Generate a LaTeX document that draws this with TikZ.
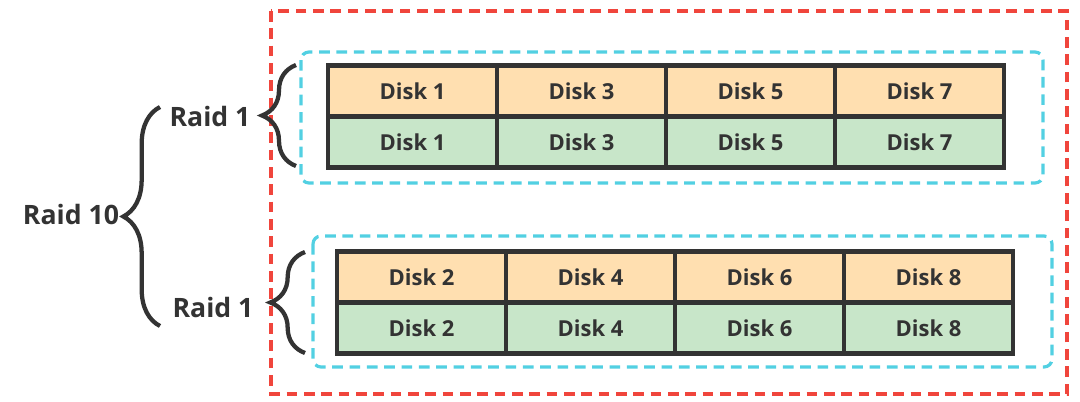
\documentclass[tikz,border=0pt]{standalone}
\usepackage{fontspec}
\setmainfont{Open Sans}
\usepackage{xcolor}
\usetikzlibrary{positioning,decorations.pathreplacing}
\definecolor{txtgray}{HTML}{333333}
\definecolor{diskorange}{HTML}{FFDFB0}
\definecolor{diskgreen}{HTML}{C8E6C9}
\definecolor{raidred}{HTML}{F0453C}
\definecolor{raidblue}{HTML}{52D0E2}

\begin{document}
\begin{tikzpicture}[x=0.75pt, y=-0.75pt,
   disk/.style={draw=txtgray, line width=3.2pt, minimum width=126.75pt,
                minimum height=38.25pt, inner sep=0pt, outer sep=0pt,
                text=txtgray, font=\fontsize{16.5}{18}\selectfont\bfseries},
   primarydisk/.style={disk, fill=diskorange},
   copydisk/.style={disk, fill=diskgreen},
   label/.style={text=txtgray, inner sep=0pt, font=\fontsize{20}{22}\selectfont\bfseries},
   bracket/.style={draw=txtgray, line width=3.2pt, decorate,
                   decoration={brace, amplitude=#1}},
   pairbox/.style={draw=raidblue, line width=2.4pt, rounded corners=6pt,
                   dash pattern=on 8pt off 5pt},
   stripebox/.style={draw=raidred, line width=2.4pt,
                     dash pattern=on 8pt off 5pt}]
  \useasboundingbox (0,0) rectangle (1080,401);

  \draw[stripebox] (271,11) rectangle (1067,394);
  \draw[pairbox] (301,52) rectangle (1043,183);
  \draw[pairbox] (313,236) rectangle (1052,367);

  \node[primarydisk] (p1) at (412.5,91) {Disk 1};
  \node[primarydisk, right=0pt of p1] (p3) {Disk 3};
  \node[primarydisk, right=0pt of p3] (p5) {Disk 5};
  \node[primarydisk, right=0pt of p5] (p7) {Disk 7};
  \node[copydisk, below=0pt of p1] (c1) {Disk 1};
  \node[copydisk, below=0pt of p3] (c3) {Disk 3};
  \node[copydisk, below=0pt of p5] (c5) {Disk 5};
  \node[copydisk, below=0pt of p7] (c7) {Disk 7};

  \node[primarydisk] (p2) at (421.5,277) {Disk 2};
  \node[primarydisk, right=0pt of p2] (p4) {Disk 4};
  \node[primarydisk, right=0pt of p4] (p6) {Disk 6};
  \node[primarydisk, right=0pt of p6] (p8) {Disk 8};
  \node[copydisk, below=0pt of p2] (c2) {Disk 2};
  \node[copydisk, below=0pt of p4] (c4) {Disk 4};
  \node[copydisk, below=0pt of p6] (c6) {Disk 6};
  \node[copydisk, below=0pt of p8] (c8) {Disk 8};

  \node[label] (raid10) at (71,214) {Raid 10};
  \node[label] (raidA) at (210,116) {Raid 1};
  \node[label] (raidB) at (213,307) {Raid 1};

  \coordinate (bigtop) at (160,107);
  \coordinate (bigbot) at (160,326);
  \coordinate (atop) at (296,65);
  \coordinate (abot) at (296,166);
  \coordinate (btop) at (305,252);
  \coordinate (bbot) at (305,353);
  \draw[bracket=27.5pt] (bigbot) -- (bigtop);
  \draw[bracket=25.5pt] (abot) -- (atop);
  \draw[bracket=26pt] (bbot) -- (btop);
\end{tikzpicture}
\end{document}
